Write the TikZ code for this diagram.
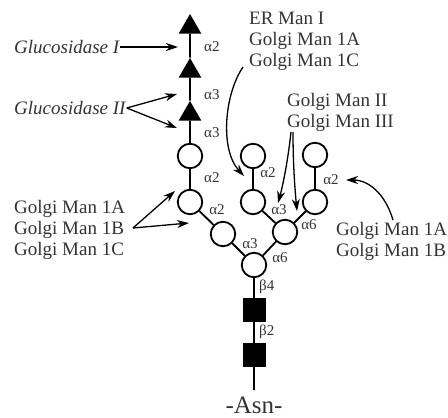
\documentclass[tikz,border=0pt]{standalone}
\usepackage{fontspec}
\setmainfont{Liberation Serif}
\usetikzlibrary{shapes.geometric,arrows.meta}
\begin{document}
\begin{tikzpicture}[x=1pt,y=-1pt,
  man/.style={circle,draw,line width=1.8pt,fill=white,minimum size=24.5pt,inner sep=0pt},
  glc/.style={regular polygon,regular polygon sides=3,fill=black,minimum size=26pt,inner sep=0pt},
  nag/.style={rectangle,fill=black,minimum width=23pt,minimum height=24pt,inner sep=0pt},
  bond/.style={line width=1.8pt},
  lnk/.style={font=\fontsize{15}{15}\selectfont,inner sep=0pt,text=black!80},
  lab/.style={font=\fontsize{19}{21}\selectfont,align=left,inner sep=1pt,text=black!80},
  ilab/.style={font=\fontsize{19}{21}\selectfont\itshape,inner sep=1pt,text=black!80},
  enz/.style={-{Stealth[length=12pt,width=8pt]},line width=1.3pt}]
\useasboundingbox (0,0) rectangle (448,418);
% residues
\node[glc] (t1) at (190,27) {};
\node[glc] (t2) at (190,71) {};
\node[glc] (t3) at (190,114) {};
\node[man] (m3) at (190,156) {};
\node[man] (m2) at (190,202) {};
\node[man] (m1) at (223,234) {};
\node[man] (b) at (254,265) {};
\node[man] (r) at (285,232) {};
\node[man] (rl) at (253,202) {};
\node[man] (rl2) at (253,156) {};
\node[man] (rr) at (315,202) {};
\node[man] (rr2) at (315,155) {};
\node[nag] (s1) at (254,310) {};
\node[nag] (s2) at (254,355) {};
\coordinate (stemend) at (254,390);
\node[font=\fontsize{25}{25}\selectfont,inner sep=0pt,anchor=base,text=black!80] (asn) at (254,413) {-Asn-};
% bonds
\draw[bond] (t1)--(t2)--(t3)--(m3)--(m2)--(m1)--(b)--(s1)--(s2)--(stemend);
\draw[bond] (b)--(r)--(rl)--(rl2);
\draw[bond] (r)--(rr)--(rr2);
% linkage labels
\node[lnk,anchor=west] (a1) at (204,47) {α2};
\node[lnk,anchor=west] (a2) at (204,95) {α3};
\node[lnk,anchor=west] (a3) at (204,133) {α3};
\node[lnk,anchor=west] (a4) at (204,178) {α2};
\node[lnk] (a5) at (217,210) {α2};
\node[lnk] (a6) at (250,244) {α3};
\node[lnk] (a7) at (280,258) {α6};
\node[lnk] (a8) at (279,210) {α3};
\node[lnk] (a9) at (309,225) {α6};
\node[lnk] (a10) at (268,173) {α2};
\node[lnk] (a11) at (331,180) {α2};
\node[lnk,anchor=west] (b4) at (259,287) {β4};
\node[lnk,anchor=west] (b2) at (259,332) {β2};
% enzyme labels
\node[ilab,anchor=west] (g1) at (13,47) {Glucosidase I};
\node[ilab,anchor=west] (g2) at (13,108) {Glucosidase II};
\node[lab,anchor=west] (er) at (248,41) {ER Man I\\Golgi Man 1A\\Golgi Man 1C};
\node[lab,anchor=west] (gm2) at (286,112) {Golgi Man II\\Golgi Man III};
\node[lab,anchor=west] (gr) at (335,241) {Golgi Man 1A\\Golgi Man 1B};
\node[lab,anchor=west] (gl) at (13,230) {Golgi Man 1A\\Golgi Man 1B\\Golgi Man 1C};
% arrow end points
\coordinate (g1e) at (178,47);
\coordinate (g2a) at (177,94);
\coordinate (g2b) at (177,128);
\coordinate (ers) at (243,67);
\coordinate (ere) at (244,176);
\coordinate (gm2s1) at (291,132);
\coordinate (gm2s2) at (293,132);
\coordinate (gm2e1) at (278,203);
\coordinate (gm2e2) at (297,211);
\coordinate (grs) at (393,220);
\coordinate (gre) at (346,180);
\coordinate (gls) at (133,228);
\coordinate (gle1) at (175,191);
\coordinate (gle2) at (189,223);
% arrows
\draw[enz] (g1) -- (g1e);
\draw[enz] (g2.east) -- (g2a);
\draw[enz] (g2.east) -- (g2b);
\draw[enz] (ers) .. controls (224,95) and (220,150) .. (ere);
\draw[enz] (gm2s1) .. controls (288,160) and (283,185) .. (gm2e1);
\draw[enz] (gm2s2) .. controls (293,165) and (295,190) .. (gm2e2);
\draw[enz] (grs) .. controls (385,193) and (368,180) .. (gre);
\draw[enz] (gls) -- (gle1);
\draw[enz] (gls) -- (gle2);
\end{tikzpicture}
\end{document}
